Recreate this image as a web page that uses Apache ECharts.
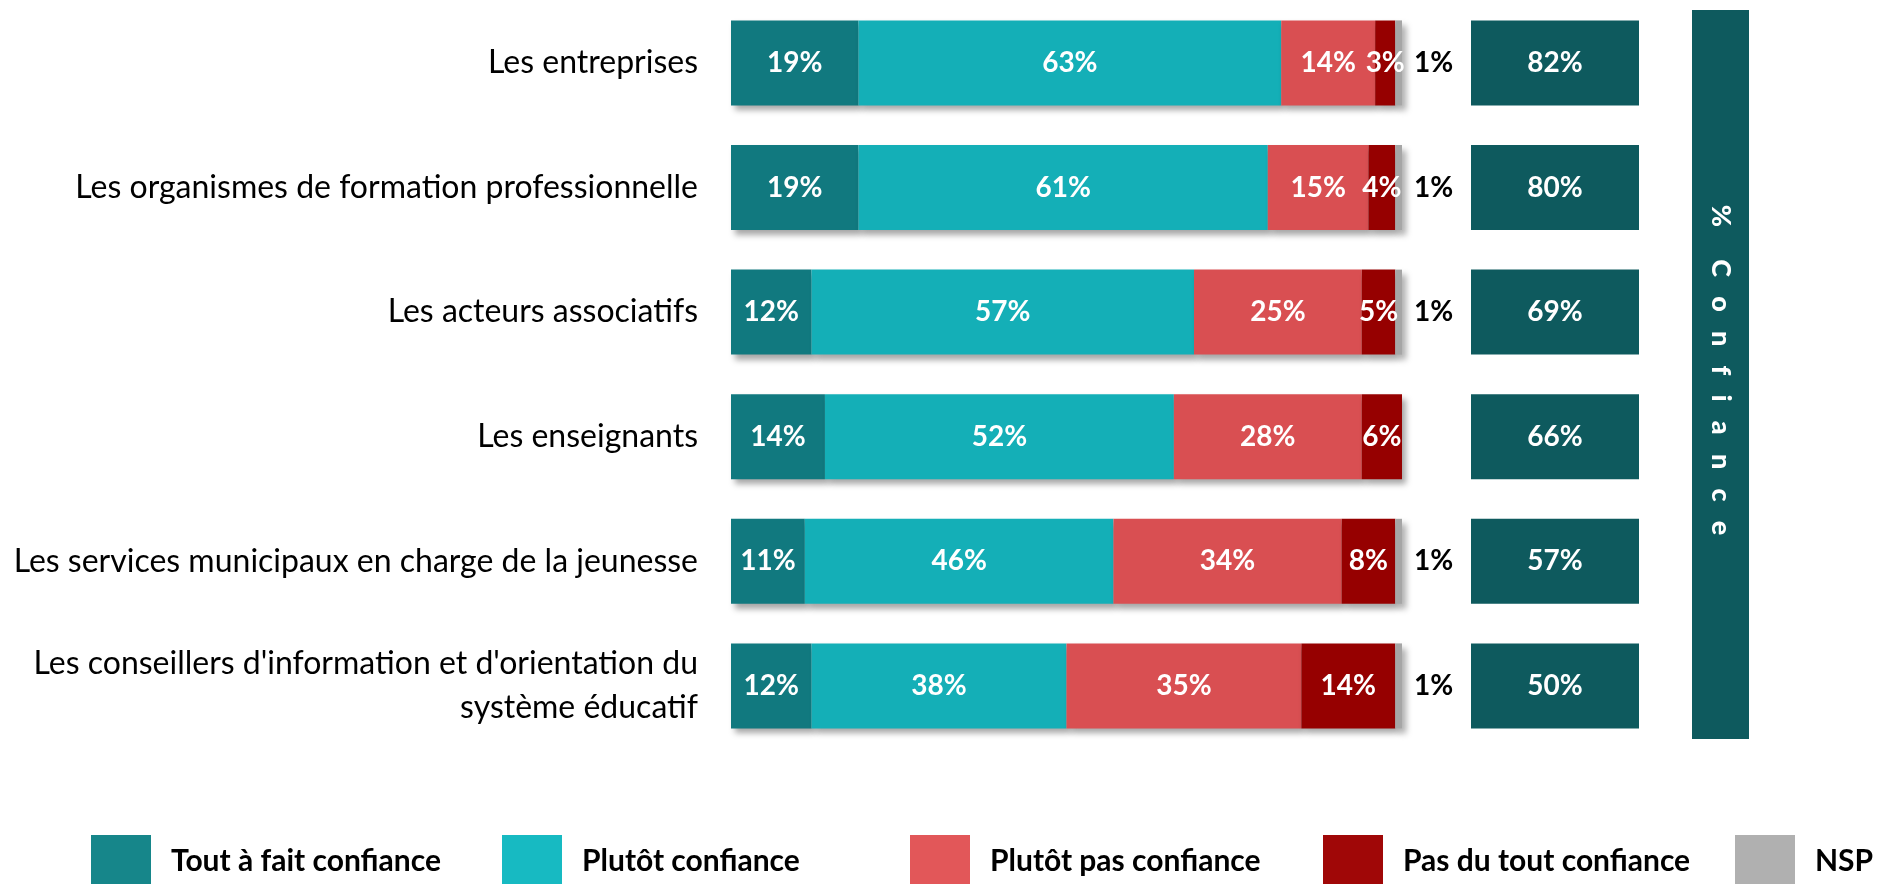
<!DOCTYPE html>
<html><head><meta charset="utf-8">
<script src="https://cdn.jsdelivr.net/npm/echarts@6/dist/echarts.min.js"></script>
<style>html,body{margin:0;padding:0;background:#fff;overflow:hidden}#c{width:1879px;height:884px}</style>
</head><body><div id="c"></div>
<script>
const categories = [
  'Les entreprises',
  'Les organismes de formation professionnelle',
  'Les acteurs associatifs',
  'Les enseignants',
  'Les services municipaux en charge de la jeunesse',
  "Les conseillers d'information et d'orientation du\nsystème éducatif"
];
const seriesNames = ['Tout à fait confiance', 'Plutôt confiance', 'Plutôt pas confiance', 'Pas du tout confiance', 'NSP'];
const toutAFait = [19, 19, 12, 14, 11, 12];
const plutot = [63, 61, 57, 52, 46, 38];
const plutotPas = [14, 15, 25, 28, 34, 35];
const pasDuTout = [3, 4, 5, 6, 8, 14];
const nsp = [1, 1, 1, null, 1, 1];
const confiance = [82, 80, 69, 66, 57, 50];
const panelTitle = '%     C   o   n   f   i   a   n   c   e';

const barColors = ['#11797f', '#14afb7', '#d94f52', '#960000', '#a6a6a6'];
const legendColors = ['#16868a', '#17bac2', '#e25759', '#a00707', '#b0b0b0'];
const seriesData = [toutAFait, plutot, plutotPas, pasDuTout, nsp];

const LABEL_FONT = 'Lato';
const chart = echarts.init(document.getElementById('c'), null, {renderer: 'canvas'});

const gridTop = 0.6, gridH = 747.6;
const barSeries = seriesNames.map((name, k) => ({
  name, type: 'bar', stack: 'total', xAxisIndex: 0, yAxisIndex: 0,
  barWidth: 85,
  data: seriesData[k],
  itemStyle: {
    color: barColors[k],
    shadowColor: 'rgba(0,0,0,0.35)', shadowBlur: 6, shadowOffsetX: 4, shadowOffsetY: 5
  },
  label: {
    show: true,
    position: k === 4 ? 'right' : 'inside',
    distance: 12,
    formatter: '{c}%',
    color: k === 4 ? '#000' : '#fff',
    fontFamily: LABEL_FONT, fontWeight: 'bold', fontSize: 28
  }
}));

const legends = seriesNames.map((name, k) => ({
  data: [{name, itemStyle: {color: legendColors[k]}}],
  left: [91, 502, 910, 1323, 1735][k],
  top: 835,
  padding: 0,
  itemWidth: 60, itemHeight: 52,
  icon: 'rect',
  selectedMode: false,
  textStyle: {fontFamily: LABEL_FONT, fontWeight: 'bold', fontSize: 30, color: '#000', padding: [0, 0, 0, 15]}
}));

chart.setOption({
  animation: false,
  legend: legends,
  grid: [
    {left: 731, width: 671, top: gridTop, height: gridH},
    {left: 1471, width: 168, top: gridTop, height: gridH}
  ],
  xAxis: [
    {gridIndex: 0, type: 'value', min: 0, max: 100, show: false},
    {gridIndex: 1, type: 'value', min: 0, max: 1, show: false}
  ],
  yAxis: [
    {gridIndex: 0, type: 'category', inverse: true, data: categories,
     axisLine: {show: false}, axisTick: {show: false}, splitLine: {show: false},
     axisLabel: {fontFamily: LABEL_FONT, fontSize: 32, color: '#000', margin: 33, lineHeight: 44, align: 'right'}},
    {gridIndex: 1, type: 'category', inverse: true, data: categories, show: false}
  ],
  series: barSeries.concat([{
    type: 'custom', name: 'confiance', xAxisIndex: 1, yAxisIndex: 1,
    data: confiance.map((v, i) => [i, v]),
    encode: {y: 0, x: 1},
    renderItem: function (params, api) {
      const cs = params.coordSys;
      const cy = api.coord([0, api.value(0)])[1];
      const h = 85;
      return {
        type: 'group',
        children: [
          {type: 'rect', shape: {x: cs.x, y: cy - h / 2, width: cs.width, height: h},
           style: {fill: '#0e5a5e'}},
          {type: 'text', x: cs.x + cs.width / 2, y: cy,
           style: {text: api.value(1) + '%', fill: '#fff', font: 'bold 28px ' + LABEL_FONT,
                   align: 'center', verticalAlign: 'middle', textAlign: 'center', textVerticalAlign: 'middle'}}
        ]
      };
    }
  }]),
  graphic: [
    {type: 'rect', shape: {x: 1692, y: 10, width: 57, height: 729}, style: {fill: '#0e5a5e'}},
    {type: 'text', x: 1721, y: 370, rotation: -Math.PI / 2,
     style: {text: panelTitle, fill: '#fff', font: '900 27px ' + LABEL_FONT,
             align: 'center', verticalAlign: 'middle', textAlign: 'center', textVerticalAlign: 'middle'}}
  ]
});
</script></body></html>
